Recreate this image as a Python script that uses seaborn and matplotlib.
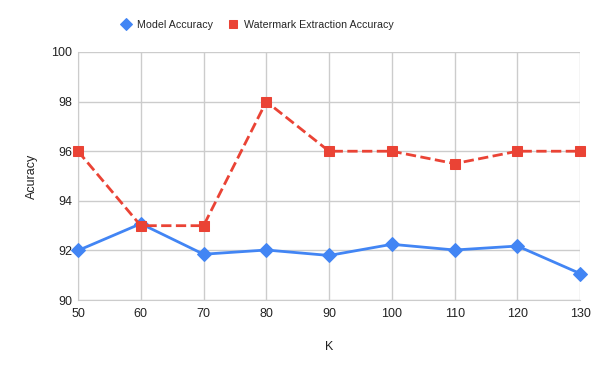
import matplotlib
matplotlib.use("Agg")
import matplotlib.pyplot as plt
import seaborn as sns

# --- values ---
k_values = [50, 60, 70, 80, 90, 100, 110, 120, 130]
model_acc = [92.0, 93.08, 91.85, 92.02, 91.8, 92.25, 92.02, 92.18, 91.07]
watermark_acc = [96.0, 93.0, 93.0, 98.0, 96.0, 96.0, 95.5, 96.0, 96.0]

BLUE = "#4285F4"
RED = "#EA4335"

sns.set_style("white")
plt.rcParams["font.family"] = ["Liberation Sans", "DejaVu Sans"]

fig = plt.figure(figsize=(6, 3.71), dpi=100)
ax = fig.add_axes([0.13, 0.191, 0.837, 0.669])

sns.lineplot(x=k_values, y=model_acc, ax=ax, color=BLUE, marker="D",
             markersize=7.5, markeredgecolor=BLUE, linewidth=2,
             label="Model Accuracy", clip_on=False, zorder=3)
sns.lineplot(x=k_values, y=watermark_acc, ax=ax, color=RED, marker="s",
             markersize=6.5, markeredgecolor=RED, linewidth=2, linestyle="--",
             dashes=(3, 2.2), label="Watermark Extraction Accuracy",
             clip_on=False, zorder=4)

ax.set_xlim(50, 130)
ax.set_ylim(90, 100)
ax.set_xticks(k_values)
ax.set_yticks([90, 92, 94, 96, 98, 100])
ax.grid(True, color="#cccccc", linewidth=1)
for side in ["top", "right"]:
    ax.spines[side].set_visible(False)
for side in ["left", "bottom"]:
    ax.spines[side].set_color("#cccccc")
ax.tick_params(axis="both", length=0, labelsize=9, colors="#222222", pad=4)
ax.tick_params(axis="x", pad=6)
ax.set_xlabel("K", fontsize=9, color="#222222", labelpad=15)
ax.set_ylabel("Acuracy", fontsize=9, color="#222222", labelpad=10)

ax.legend(loc="center left", bbox_to_anchor=(0.085, 1.109), ncol=2, frameon=False,
          fontsize=7.7, handlelength=1.0, handletextpad=0.55, columnspacing=1.3,
          markerscale=0.85, borderaxespad=0, borderpad=0)
leg = ax.get_legend()
for line in leg.get_lines():
    line.set_linestyle("none")

fig.savefig("out.png", dpi=100)
